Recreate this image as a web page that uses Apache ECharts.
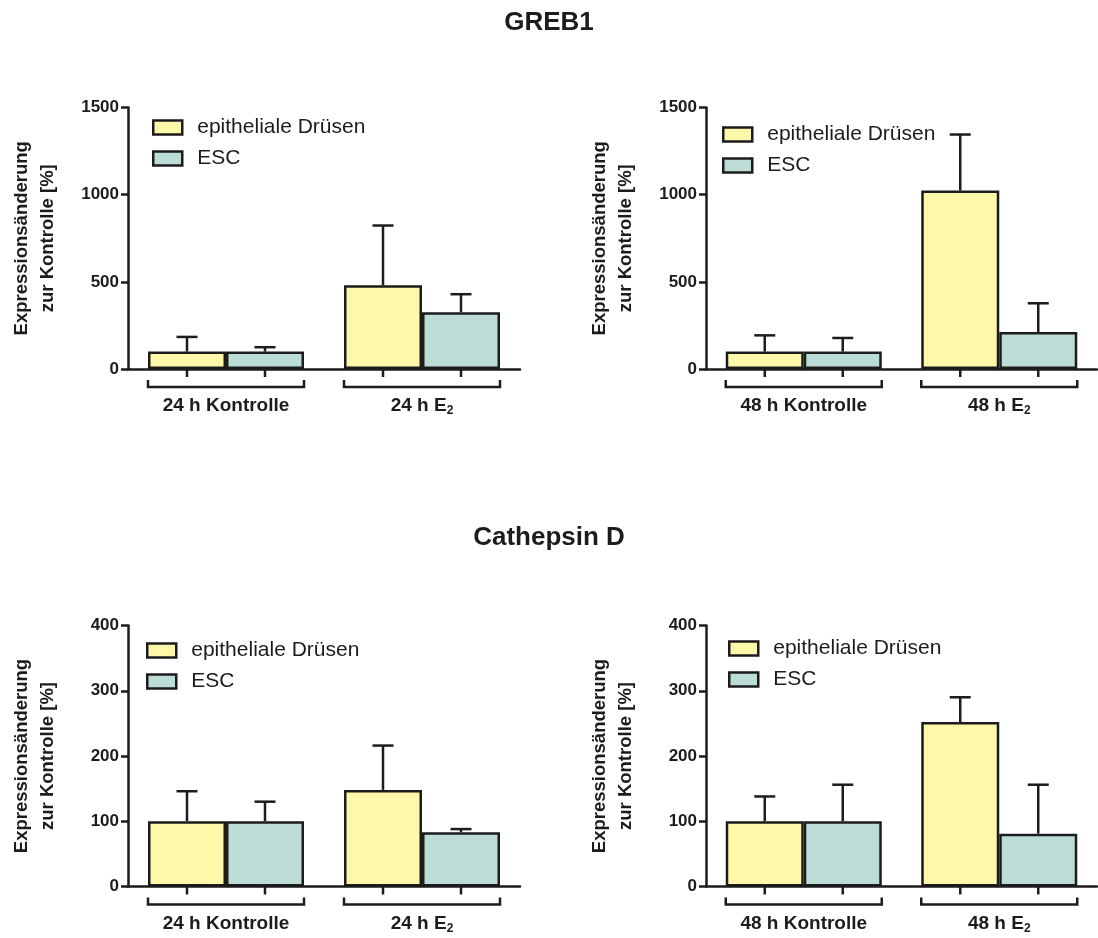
<!DOCTYPE html>
<html>
<head>
<meta charset="utf-8">
<script src="https://cdn.jsdelivr.net/npm/echarts@6/dist/echarts.min.js"></script>
<style>
  html, body { margin: 0; padding: 0; background: #ffffff; }
  #chart { width: 1098px; height: 938px; }
</style>
</head>
<body>
<div id="chart"></div>
<script>
// Group names shown in every legend
const seriesNames = ['epitheliale Drüsen', 'ESC'];

// Category labels ({sub|…} renders a subscript)
const cats24 = ['24 h Kontrolle', '24 h E{sub|2}'];
const cats48 = ['48 h Kontrolle', '48 h E{sub|2}'];

// Figure headings
const headings = ['GREB1', 'Cathepsin D'];

// Y tick values
const grebTicks = [0, 500, 1000, 1500];
const ctsdTicks = [0, 100, 200, 300, 400];

// GREB1 expression change vs. control [%] (mean, upper error)
const greb24Druesen = [100, 480];
const greb24DruesenErr = [84, 343];
const greb24Esc = [100, 325];
const greb24EscErr = [25, 104];

const greb48Druesen = [100, 1024];
const greb48DruesenErr = [93, 321];
const greb48Esc = [100, 212];
const greb48EscErr = [78, 165];

// Cathepsin D expression change vs. control [%]
const ctsd24Druesen = [100, 148];
const ctsd24DruesenErr = [46, 68];
const ctsd24Esc = [100, 83];
const ctsd24EscErr = [30, 5];

const ctsd48Druesen = [100, 252];
const ctsd48DruesenErr = [38, 38];
const ctsd48Esc = [100, 81];
const ctsd48EscErr = [56, 75];

// ---- styling ----
const FONT = '"Liberation Sans", Arial, Helvetica, sans-serif';
const INK = '#1c1c1c';
const YELLOW = '#FFF8A8';
const TEAL = '#BBDCD7';
const BAR_W = 78;
const CAP = 10.5;
const LW = 2.5;

const panels = [
  { cats: cats24, ticks: grebTicks, a: greb24Druesen, ae: greb24DruesenErr, b: greb24Esc, be: greb24EscErr,
    grid: { left: 128, top: 107.5, width: 392, height: 261.5 }, legend: { left: 152, top: 117 } },
  { cats: cats48, ticks: grebTicks, a: greb48Druesen, ae: greb48DruesenErr, b: greb48Esc, be: greb48EscErr,
    grid: { left: 706, top: 107.5, width: 391, height: 261.5 }, legend: { left: 722, top: 124 } },
  { cats: cats24, ticks: ctsdTicks, a: ctsd24Druesen, ae: ctsd24DruesenErr, b: ctsd24Esc, be: ctsd24EscErr,
    grid: { left: 128, top: 625.5, width: 392, height: 261 }, legend: { left: 146, top: 640 } },
  { cats: cats48, ticks: ctsdTicks, a: ctsd48Druesen, ae: ctsd48DruesenErr, b: ctsd48Esc, be: ctsd48EscErr,
    grid: { left: 706, top: 625.5, width: 391, height: 261 }, legend: { left: 728, top: 638 } }
];

// Upper-only error bars centred on one bar of each group (side -1 = left bar, +1 = right bar)
function errorSeries(idx, means, errs, side) {
  return {
    type: 'custom',
    xAxisIndex: idx,
    yAxisIndex: idx,
    silent: true,
    z: 1,
    data: means.map((m, i) => [i, m, m + errs[i]]),
    renderItem: function (params, api) {
      const base = api.coord([api.value(0), api.value(1)]);
      const top = api.coord([api.value(0), api.value(2)]);
      const x = base[0] + side * BAR_W / 2;
      const st = { stroke: INK, lineWidth: LW };
      return {
        type: 'group',
        children: [
          { type: 'line', shape: { x1: x, y1: base[1], x2: x, y2: top[1] }, style: st },
          { type: 'line', shape: { x1: x - CAP, y1: top[1], x2: x + CAP, y2: top[1] }, style: st }
        ]
      };
    }
  };
}

// Tick marks under each bar and a bracket spanning each group
function bracketSeries(idx, cats) {
  return {
    type: 'custom',
    xAxisIndex: idx,
    yAxisIndex: idx,
    silent: true,
    data: cats.map((c, i) => [i, 0]),
    renderItem: function (params, api) {
      const p = api.coord([api.value(0), 0]);
      const y = p[1];
      const st = { stroke: INK, lineWidth: LW, fill: null };
      const xl = p[0] - BAR_W / 2, xr = p[0] + BAR_W / 2;
      return {
        type: 'group',
        children: [
          { type: 'line', shape: { x1: xl, y1: y, x2: xl, y2: y + 8 }, style: st },
          { type: 'line', shape: { x1: xr, y1: y, x2: xr, y2: y + 8 }, style: st },
          { type: 'polyline', shape: { points: [[p[0] - BAR_W, y + 11], [p[0] - BAR_W, y + 18], [p[0] + BAR_W, y + 18], [p[0] + BAR_W, y + 11]] }, style: st }
        ]
      };
    }
  };
}

const grids = [], xAxes = [], yAxes = [], legends = [], series = [];

panels.forEach((p, idx) => {
  grids.push(p.grid);
  xAxes.push({
    type: 'category',
    gridIndex: idx,
    data: p.cats,
    axisLine: { lineStyle: { color: INK, width: LW } },
    axisTick: { show: false },
    axisLabel: {
      margin: 26,
      color: INK,
      fontFamily: FONT,
      fontSize: 19,
      fontWeight: 'bold',
      lineHeight: 22,
      rich: {
        sub: { fontFamily: FONT, fontSize: 12, fontWeight: 'bold', color: INK, verticalAlign: 'bottom', lineHeight: 10 }
      }
    }
  });
  yAxes.push({
    type: 'value',
    gridIndex: idx,
    min: p.ticks[0],
    max: p.ticks[p.ticks.length - 1],
    interval: p.ticks[1] - p.ticks[0],
    name: 'Expressionsänderung\nzur Kontrolle [%]',
    nameLocation: 'middle',
    nameGap: 67,
    nameTextStyle: { fontFamily: FONT, fontSize: 18.5, fontWeight: 'bold', color: INK, lineHeight: 26 },
    axisLine: { show: true, lineStyle: { color: INK, width: LW } },
    axisTick: { show: true, length: 7, lineStyle: { color: INK, width: LW } },
    axisLabel: { margin: 9, color: INK, fontFamily: FONT, fontSize: 17, fontWeight: 'bold', formatter: (v) => String(v) },
    splitLine: { show: false }
  });
  legends.push({
    orient: 'vertical',
    left: p.legend.left,
    top: p.legend.top,
    padding: 0,
    itemWidth: 29,
    itemHeight: 14,
    itemGap: 10,
    icon: 'rect',
    selectedMode: false,
    data: seriesNames,
    itemStyle: { borderColor: INK, borderWidth: 2.5 },
    textStyle: { fontFamily: FONT, fontSize: 21, color: INK, lineHeight: 20, padding: [0, 0, 0, 10] }
  });
  series.push(errorSeries(idx, p.a, p.ae, -1));
  series.push(errorSeries(idx, p.b, p.be, 1));
  series.push({
    name: seriesNames[0], type: 'bar', xAxisIndex: idx, yAxisIndex: idx, data: p.a,
    barWidth: BAR_W, barGap: '0%', z: 2,
    itemStyle: { color: YELLOW, borderColor: INK, borderWidth: LW }
  });
  series.push({
    name: seriesNames[1], type: 'bar', xAxisIndex: idx, yAxisIndex: idx, data: p.b,
    barWidth: BAR_W, barGap: '0%', z: 2,
    itemStyle: { color: TEAL, borderColor: INK, borderWidth: LW }
  });
  series.push(bracketSeries(idx, p.cats));
});

const chart = echarts.init(document.getElementById('chart'), null, { renderer: 'canvas' });
chart.setOption({
  backgroundColor: '#ffffff',
  animation: false,
  title: [
    { text: headings[0], left: 'center', top: 5, textStyle: { fontFamily: FONT, fontSize: 26, fontWeight: 'bold', color: INK } },
    { text: headings[1], left: 'center', top: 520, textStyle: { fontFamily: FONT, fontSize: 26, fontWeight: 'bold', color: INK } }
  ],
  grid: grids,
  xAxis: xAxes,
  yAxis: yAxes,
  legend: legends,
  series: series
});
</script>
</body>
</html>
